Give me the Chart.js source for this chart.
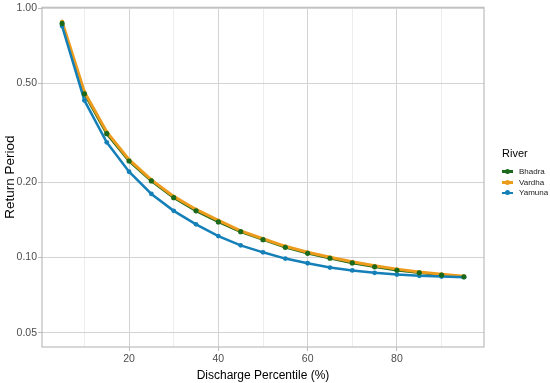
<!DOCTYPE html>
<html>
<head>
<meta charset="utf-8">
<script src="https://cdn.jsdelivr.net/npm/chart.js@4.4.1/dist/chart.umd.min.js"></script>
<style>
  html, body { margin: 0; padding: 0; background: #fff; }
  #wrap { position: relative; width: 550px; height: 383px; font-family: 'Liberation Sans', Arial, sans-serif; overflow: hidden; }
  #legend { position: absolute; left: 502px; top: 147px; width: 60px; color: #000; white-space: nowrap; }
  #legend .title { font-size: 11px; margin-bottom: 7px; }
  #legend .item { display: flex; align-items: center; height: 10.7px; font-size: 8px; color: #222; }
  #legend .key { position: relative; flex: none; width: 11px; height: 10px; margin-right: 6px; }
  #legend .key .ln { position: absolute; left: 0; top: 4px; width: 11px; height: 2.5px; }
  #legend .key .pt { position: absolute; left: 3px; top: 2.5px; width: 5px; height: 5px; border-radius: 50%; }
</style>
</head>
<body>
<div id="wrap">
  <canvas id="chart" width="550" height="383"></canvas>
  <div id="legend"></div>
</div>
<script>
const percentiles = [5, 10, 15, 20, 25, 30, 35, 40, 45, 50, 55, 60, 65, 70, 75, 80, 85, 90, 95];
const bhadra = [0.869, 0.454, 0.314, 0.244, 0.203, 0.174, 0.154, 0.139, 0.127, 0.118, 0.110, 0.104, 0.0994, 0.0952, 0.0918, 0.0890, 0.0869, 0.0851, 0.0838];
const vardha = [0.884, 0.462, 0.319, 0.247, 0.205, 0.176, 0.156, 0.141, 0.128, 0.119, 0.111, 0.105, 0.1003, 0.0962, 0.0928, 0.0899, 0.0876, 0.0857, 0.0842];
const yamuna = [0.848, 0.427, 0.290, 0.221, 0.180, 0.154, 0.136, 0.122, 0.112, 0.105, 0.0991, 0.0949, 0.0912, 0.0888, 0.0869, 0.0855, 0.0845, 0.0840, 0.0835];
const yTicks = [0.05, 0.10, 0.20, 0.50, 1.00];
const xTicks = [10, 20, 30, 40, 50, 60, 70, 80, 90];
const xLabelled = [20, 40, 60, 80];

const rivers = ['Bhadra', 'Vardha', 'Yamuna'];
const colors = { Bhadra: '#1b6a1b', Vardha: '#ec9b1c', Yamuna: '#1580b8' };

const toPoints = (vals) => vals.map((v, i) => ({ x: percentiles[i], y: v }));

// panel border like ggplot's theme_light
const panelBorder = {
  id: 'panelBorder',
  afterDatasetsDraw(chart) {
    const { ctx, chartArea: a } = chart;
    ctx.save();
    ctx.strokeStyle = '#bcbcbc';
    ctx.lineWidth = 1.2;
    ctx.strokeRect(a.left, a.top, a.right - a.left, a.bottom - a.top);
    ctx.restore();
  }
};

new Chart(document.getElementById('chart'), {
  type: 'line',
  data: {
    datasets: [
      { label: 'Bhadra', data: toPoints(bhadra), borderColor: colors.Bhadra, borderWidth: 2.5,
        pointRadius: 0, order: 4 },
      { label: 'Vardha', data: toPoints(vardha), borderColor: colors.Vardha, backgroundColor: colors.Vardha,
        borderWidth: 3, pointRadius: 2, pointBorderWidth: 0, order: 3 },
      { label: 'Yamuna', data: toPoints(yamuna), borderColor: colors.Yamuna, backgroundColor: colors.Yamuna,
        borderWidth: 2.5, pointRadius: 2.4, pointBorderWidth: 0, order: 2 },
      { label: 'Bhadra points', data: toPoints(bhadra), showLine: false, backgroundColor: colors.Bhadra,
        borderColor: colors.Bhadra, pointRadius: 2.6, pointBorderWidth: 0, order: 1 }
    ]
  },
  options: {
    responsive: false,
    animation: false,
    layout: { padding: { top: 5, right: 66, left: 0, bottom: 0 } },
    plugins: { legend: { display: false }, tooltip: { enabled: false } },
    elements: { line: { tension: 0 } },
    scales: {
      x: {
        type: 'linear',
        min: 0.5,
        max: 99.5,
        afterFit: (s) => { s.height = 36; },
        afterBuildTicks: (s) => { s.ticks = xTicks.map(v => ({ value: v })); },
        grid: {
          color: (c) => xLabelled.includes(c.tick && c.tick.value) ? '#d3d3d3' : '#ededed',
          tickColor: (c) => xLabelled.includes(c.tick && c.tick.value) ? '#bcbcbc' : 'rgba(0,0,0,0)',
          tickLength: 4,
          lineWidth: 1
        },
        border: { display: false },
        ticks: {
          color: '#4d4d4d',
          font: { family: 'Liberation Sans', size: 10.5 },
          padding: 2,
          maxRotation: 0,
          autoSkip: false,
          callback: (v) => xLabelled.includes(v) ? String(v) : ''
        },
        title: {
          display: true,
          text: 'Discharge Percentile (%)',
          color: '#000',
          font: { family: 'Liberation Sans', size: 12 },
          padding: { top: 2, bottom: 0 }
        }
      },
      y: {
        type: 'logarithmic',
        min: 0.0438,
        max: 1.009,
        afterFit: (s) => { s.width = 42; },
        afterBuildTicks: (s) => { s.ticks = yTicks.map(v => ({ value: v })); },
        grid: { color: '#d3d3d3', tickColor: '#bcbcbc', tickLength: 4, lineWidth: 1 },
        border: { display: false },
        ticks: {
          color: '#4d4d4d',
          font: { family: 'Liberation Sans', size: 10.5 },
          padding: 1,
          autoSkip: false,
          callback: (v) => Number(v).toFixed(2)
        },
        title: {
          display: true,
          text: 'Return Period',
          color: '#000',
          font: { family: 'Liberation Sans', size: 13.5 },
          padding: { top: 2, bottom: 0 }
        }
      }
    }
  },
  plugins: [panelBorder]
});

// ggplot-style legend on the right
const legend = document.getElementById('legend');
legend.innerHTML = '<div class="title">River</div>' + rivers.map(r =>
  '<div class="item"><span class="key"><span class="ln" style="background:' + colors[r] + '"></span>' +
  '<span class="pt" style="background:' + colors[r] + '"></span></span>' + r + '</div>'
).join('');
</script>
</body>
</html>
